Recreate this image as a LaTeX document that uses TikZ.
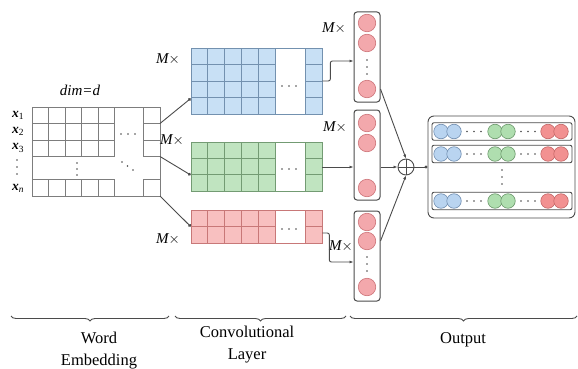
\documentclass[tikz,border=0pt]{standalone}
\usepackage{fontspec}
\setmainfont{Liberation Serif}
\usetikzlibrary{arrows.meta,decorations.pathreplacing,calc}
\definecolor{gridline}{RGB}{125,125,125}
\definecolor{bluefill}{RGB}{200,224,245}
\definecolor{blueline}{RGB}{115,145,175}
\definecolor{greenfill}{RGB}{192,228,192}
\definecolor{greenline}{RGB}{115,155,115}
\definecolor{redfill}{RGB}{248,192,192}
\definecolor{redline}{RGB}{200,120,120}
\definecolor{pinkfill}{RGB}{243,168,172}
\definecolor{pinkline}{RGB}{205,115,120}
\definecolor{obluefill}{RGB}{185,212,240}
\definecolor{oblueline}{RGB}{110,140,175}
\definecolor{ogreenfill}{RGB}{175,222,175}
\definecolor{ogreenline}{RGB}{105,150,105}
\definecolor{oredfill}{RGB}{242,145,145}
\definecolor{oredline}{RGB}{195,100,100}
\definecolor{boxline}{RGB}{75,75,75}
\tikzset{
  ecell/.style={draw=gridline, line width=0.9pt},
  bcell/.style={draw=blueline, fill=bluefill, line width=0.7pt},
  gcell/.style={draw=greenline, fill=greenfill, line width=0.7pt},
  rcell/.style={draw=redline, fill=redfill, line width=0.7pt},
  blockframe/.style={draw, inner sep=0, line width=0.7pt},
  poolbox/.style={draw=boxline, rounded corners=3pt, line width=1pt, minimum width=26, minimum height=90, inner sep=0},
  pc/.style={circle, draw=pinkline, fill=pinkfill, minimum size=17.5, inner sep=0, line width=0.6pt},
  oc/.style={circle, minimum size=14.5, inner sep=0, line width=0.6pt},
  ocb/.style={oc, draw=oblueline, fill=obluefill},
  ocg/.style={oc, draw=ogreenline, fill=ogreenfill},
  ocr/.style={oc, draw=oredline, fill=oredfill},
  rowbox/.style={draw=boxline, rounded corners=2pt, line width=0.9pt, minimum width=140, minimum height=17.5, inner sep=0},
  conn/.style={draw=boxline, line width=0.9pt, -{Latex[length=4pt,width=3pt]}},
  dotconn/.style={draw=boxline, line width=0.9pt, -{Circle[length=3pt]}},
  brace/.style={draw=boxline, line width=0.9pt, decorate, decoration={brace, amplitude=5pt, mirror}},
  lbl/.style={font=\fontsize{15}{15}\selectfont\itshape, inner sep=0},
  xl/.style={font=\fontsize{13.5}{13.5}\selectfont, inner sep=0},
  captext/.style={font=\fontsize{16.5}{22}\selectfont, align=center, inner sep=0},
  dt/.style={circle, fill=boxline, inner sep=0, minimum size=1.8},
}
\begin{document}
\begin{tikzpicture}[x=1pt,y=-1pt]
\useasboundingbox (0,0) rectangle (578,369);

% ---------- word embedding ----------
\foreach \r in {107,123.5,140,179.5}{
  \foreach \c in {32,48.5,65,81.5,98,143.5}{
    \draw[ecell] (\c,\r) rectangle ++(16.5,16.5);
  }
}
\node[blockframe, draw=gridline, line width=0.9pt, minimum width=128, minimum height=89] (emb) at (96,151.5) {};
\foreach \x in {121,128,135} \node[dt] at (\x,134) {};
\foreach \x/\y in {122/162,127.5/166,133/170} \node[dt] at (\x,\y) {};
\foreach \y in {163,169,175} \node[dt] at (77,\y) {};
\node[lbl] (dim) at (80,90) {dim=d};
\node[xl] (x1) at (18,115) {\textbf{\textit{x}}\textsubscript{1}};
\node[xl] (x2) at (18,131) {\textbf{\textit{x}}\textsubscript{2}};
\node[xl] (x3) at (18,148) {\textbf{\textit{x}}\textsubscript{3}};
\foreach \y in {160,167,174} \node[dt] at (17,\y) {};
\node[xl] (xn) at (18,188) {\textbf{\textit{x}}\textsubscript{\textit{n}}};

\coordinate (e1) at (160,123.5);
\coordinate (e2) at (160,156.5);
\coordinate (e3) at (160,196);

% ---------- convolution blocks ----------
\foreach \r in {48,64.5,81,97.5}{
  \foreach \c in {191,207.8,224.6,241.4,258.2}{\draw[bcell] (\c,\r) rectangle ++(16.8,16.5);}
  \draw[bcell] (305,\r) rectangle ++(17,16.5);
}
\node[blockframe, draw=blueline, minimum width=131, minimum height=66] (cb) at (256.5,81) {};
\foreach \x in {282,289,296} \node[dt] at (\x,86) {};

\foreach \r in {142,158.33,174.66}{
  \foreach \c in {191,207.8,224.6,241.4,258.2}{\draw[gcell] (\c,\r) rectangle ++(16.8,16.33);}
  \draw[gcell] (305,\r) rectangle ++(17,16.33);
}
\node[blockframe, draw=greenline, minimum width=131, minimum height=49] (cg) at (256.5,166.5) {};
\foreach \x in {282,289,296} \node[dt] at (\x,169) {};

\foreach \r in {210,226.5}{
  \foreach \c in {191,207.8,224.6,241.4,258.2}{\draw[rcell] (\c,\r) rectangle ++(16.8,16.5);}
  \draw[rcell] (305,\r) rectangle ++(17,16.5);
}
\node[blockframe, draw=redline, minimum width=131, minimum height=33] (cr) at (256.5,226.5) {};
\foreach \x in {282,289,296} \node[dt] at (\x,229) {};

\node[lbl] (mb) at (168,59) {M$\times$};
\node[lbl] (mg) at (172,140) {M$\times$};
\node[lbl] (mr) at (168,239) {M$\times$};

\draw[dotconn] (e1) -- (cb.west |- 0,98.5);
\draw[dotconn] (e2) -- (cg.west |- 0,175);
\draw[dotconn] (e3) -- (cr.west |- 0,226.5);

% ---------- pooling vectors ----------
\node[poolbox] (p1) at (367,57) {};
\node[poolbox] (p2) at (367,155) {};
\node[poolbox] (p3) at (367,256) {};
\node[pc] (p1a) at (367,23) {};
\node[pc] (p1b) at (367,43) {};
\node[pc] (p1c) at (367,89) {};
\foreach \y in {60,67,74} \node[dt] at (367,\y) {};
\node[pc] (p2a) at (367,123) {};
\node[pc] (p2b) at (367,143) {};
\node[pc] (p2c) at (367,188) {};
\node[pc] (p3a) at (367,222) {};
\node[pc] (p3b) at (367,241) {};
\node[pc] (p3c) at (367,287) {};
\foreach \y in {257,264,271} \node[dt] at (367,\y) {};

\node[lbl] (m1) at (334,28) {M$\times$};
\node[lbl] (m2) at (335,127) {M$\times$};
\node[lbl] (m3) at (341,246) {M$\times$};

\draw[conn, rounded corners=2pt] (cb.east |- 0,81) -- ++(8,0) |- (p1.west |- 0,61);
\draw[conn] (cg.east |- 0,167) -- (p2.west |- 0,167);
\draw[conn, rounded corners=2pt] (cr.east |- 0,233) -- ++(7,0) |- (p3.west |- 0,262);

% ---------- sum ----------
\node[circle, draw=boxline, line width=0.9pt, minimum size=16, inner sep=0] (sum) at (406,167) {};
\draw[boxline, line width=0.9pt] (sum.north) -- (sum.south) (sum.west) -- (sum.east);
\draw[conn] (p1.east |- p1c) -- (sum.north);
\draw[conn] (p2.east |- 0,167) -- (sum.west);
\draw[conn] (p3.east |- p3b) -- (sum.south);

% ---------- output ----------
\node[draw=boxline, rounded corners=6pt, line width=0.9pt, minimum width=147, minimum height=102, inner sep=0] (out) at (501.5,167) {};
\draw[dotconn] (sum.east) -- (out.west);
\foreach \n/\y in {r1/131.5,r2/154,r3/201}{
  \node[rowbox] (\n) at (502,\y) {};
  \node[ocb] at (441,\y) {};
  \node[ocb] at (454,\y) {};
  \node[ocg] at (495,\y) {};
  \node[ocg] at (508,\y) {};
  \node[ocr] at (548,\y) {};
  \node[ocr] at (561,\y) {};
  \foreach \x in {467,474,481,521,528,535} \node[dt] at (\x,\y) {};
}
\foreach \y in {170,177,184} \node[dt] at (502,\y) {};

% ---------- braces and captions ----------
\draw[brace] (11,316) -- (169,316);
\draw[brace] (175,316) -- (346,316);
\draw[brace] (350,316) -- (577,316);
\node[captext] (cw) at (99,351) {Word\\Embedding};
\node[captext] (cc) at (247,345) {Convolutional\\Layer};
\node[captext] (co) at (463,340) {Output};
\end{tikzpicture}
\end{document}
